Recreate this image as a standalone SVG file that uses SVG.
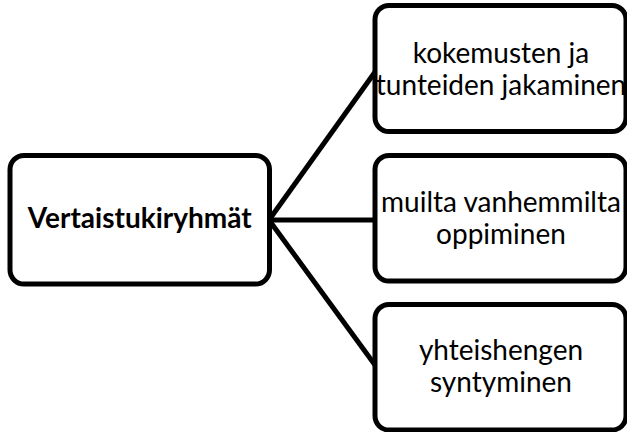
<svg xmlns="http://www.w3.org/2000/svg" width="627" height="432" viewBox="0 0 627 432">
<style>
.box{fill:#fff;stroke:#000;stroke-width:5}
.con{stroke:#000;stroke-width:5;fill:none}
.t{font-family:Lato,"Open Sans","Liberation Sans",sans-serif;font-size:28px;fill:#000;text-anchor:middle}
.b{font-weight:bold}
</style>
<rect width="627" height="432" fill="#fff"/>
<g id="connectors">
<line class="con" x1="269" y1="220" x2="375" y2="72"/>
<line class="con" x1="269" y1="220" x2="375" y2="220"/>
<line class="con" x1="269" y1="220" x2="375" y2="365"/>
</g>
<g id="center">
<rect class="box" x="10" y="155.5" width="259.5" height="128.5" rx="14"/>
<text class="t b" x="139.75" y="228">Vertaistukiryhmät</text>
</g>
<g id="node1">
<rect class="box" x="375" y="5.5" width="251" height="126" rx="14"/>
<text class="t" x="501" y="63">kokemusten ja</text>
<text class="t" x="501" y="95">tunteiden jakaminen</text>
</g>
<g id="node2">
<rect class="box" x="375" y="155.5" width="251" height="125.5" rx="14"/>
<text class="t" x="501" y="212">muilta vanhemmilta</text>
<text class="t" x="501" y="244">oppiminen</text>
</g>
<g id="node3">
<rect class="box" x="375" y="304.5" width="251" height="125.5" rx="14"/>
<text class="t" x="501" y="360">yhteishengen</text>
<text class="t" x="501" y="392">syntyminen</text>
</g>
</svg>
